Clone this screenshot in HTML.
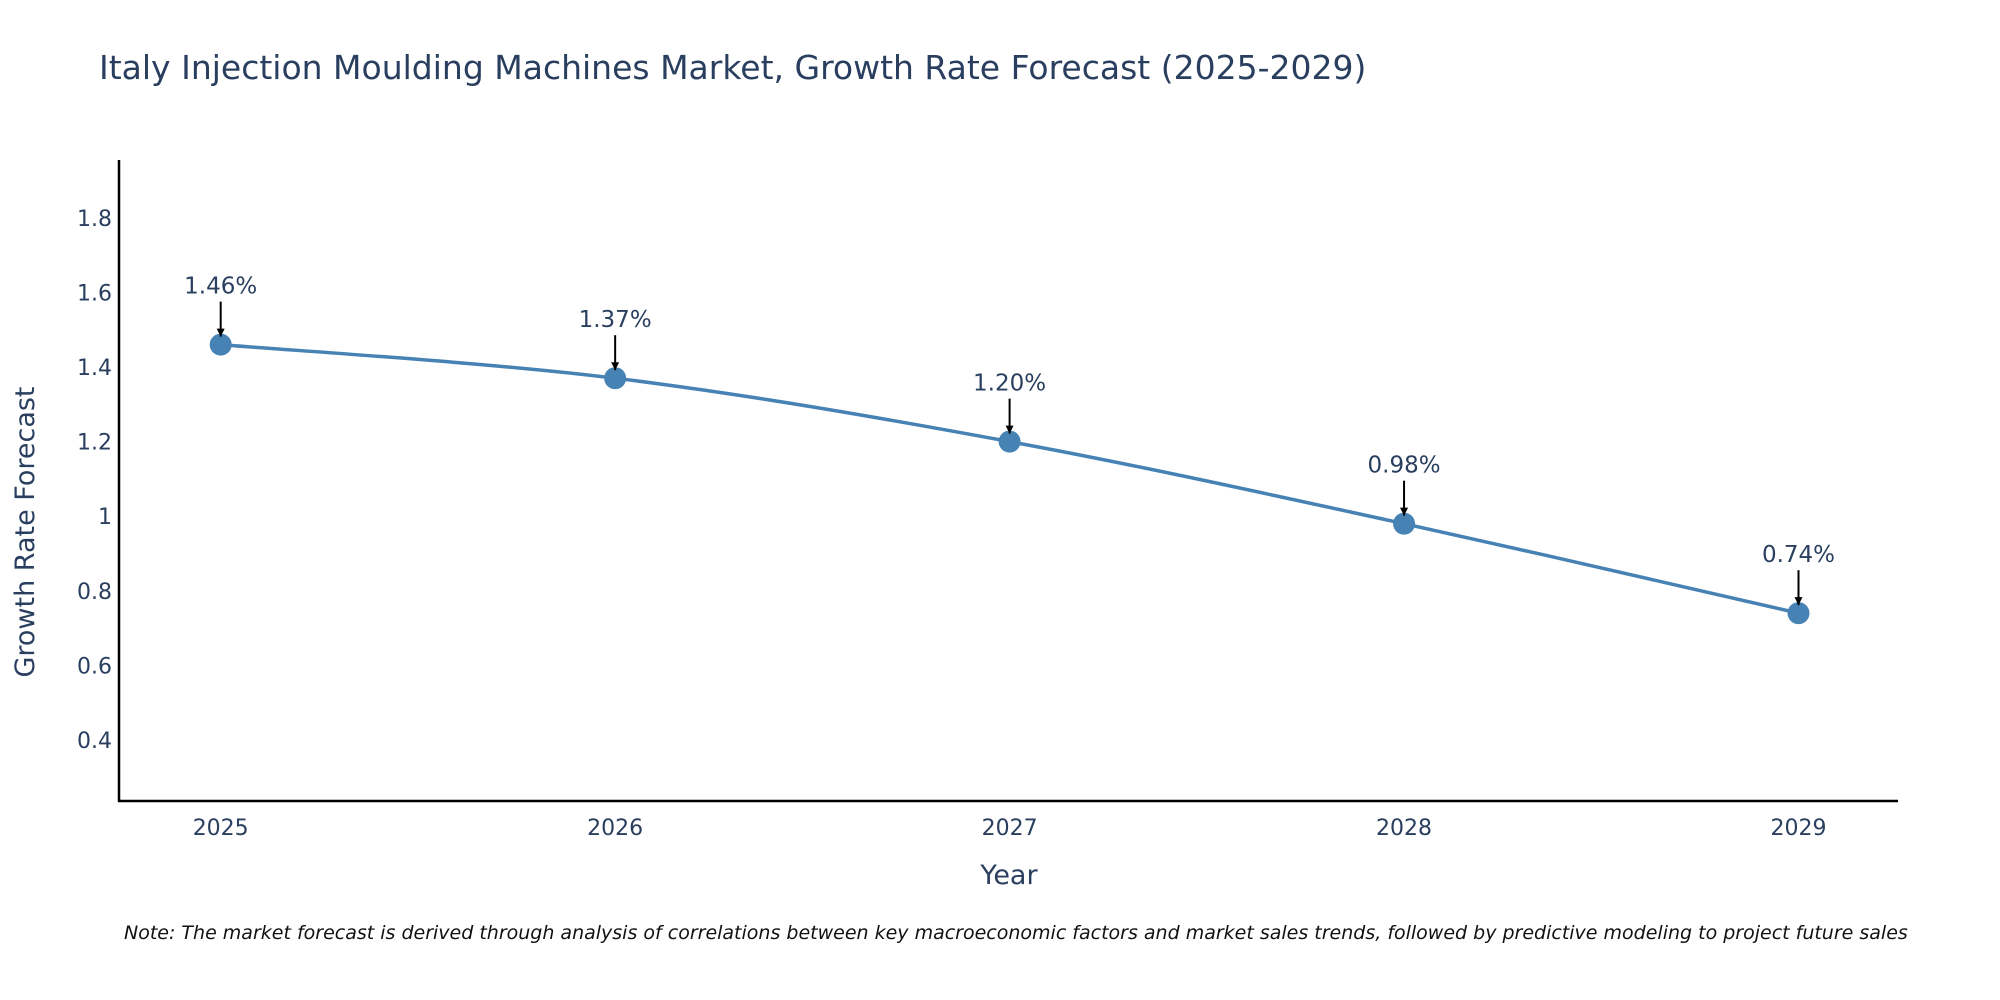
<!DOCTYPE html>
<html><head><meta charset="utf-8"><style>
html,body{margin:0;padding:0;background:#fff;width:2000px;height:1000px;overflow:hidden}
svg text{font-family:"DejaVu Sans","Liberation Sans",sans-serif;fill:#2a3f5f}
</style></head><body>
<svg id="chart" width="2000" height="1000" xmlns="http://www.w3.org/2000/svg">
<text x="99" y="79" font-size="33">Italy Injection Moulding Machines Market, Growth Rate Forecast (2025-2029)</text>
<g id="yticks"></g>
<g id="xticks"></g>
<line x1="119" y1="160" x2="119" y2="802" stroke="#000" stroke-width="2.5"/>
<line x1="118" y1="801" x2="1898" y2="801" stroke="#000" stroke-width="2.5"/>
<text transform="translate(34,532) rotate(-90)" text-anchor="middle" font-size="27">Growth Rate Forecast</text>
<text x="1009" y="884" text-anchor="middle" font-size="27">Year</text>
<path id="line" fill="none" stroke="#4682B4" stroke-width="3.5"/>
<g id="marks"></g>
<text x="124" y="939" font-size="19" font-style="italic" style="fill:#111">Note: The market forecast is derived through analysis of correlations between key macroeconomic factors and market sales trends, followed by predictive modeling to project future sales</text>
<defs><marker id="ah" viewBox="0 0 10 10" refX="10" refY="5" markerWidth="8" markerHeight="8" markerUnits="userSpaceOnUse" orient="auto"><path d="M0,0L10,5L0,10z" fill="#000"/></marker></defs>
</svg>
<script>
const years=[2025,2026,2027,2028,2029];
const values=[1.46,1.37,1.20,0.98,0.74];
const labels=["1.46%","1.37%","1.20%","0.98%","0.74%"];
const yTickVals=[0.4,0.6,0.8,1,1.2,1.4,1.6,1.8];
const NS="http://www.w3.org/2000/svg";
const svg=document.getElementById('chart');
const x=v=>220.7+(v-2025)*(1798.5-220.7)/4;
const y=v=>740-(v-0.4)*373;
function mk(t,a,p){const e=document.createElementNS(NS,t);for(const k in a)e.setAttribute(k,a[k]);(p||svg).appendChild(e);return e;}
const yt=document.getElementById('yticks');
yTickVals.forEach(v=>{const t=mk('text',{x:112,y:y(v)+8,'text-anchor':'end','font-size':22},yt);t.textContent=String(v);

});
const xt=document.getElementById('xticks');
years.forEach(v=>{const t=mk('text',{x:x(v),y:835,'text-anchor':'middle','font-size':22},xt);t.textContent=v;

});
const P=years.map((yr,i)=>[x(yr),y(values[i])]);
let d=`M${P[0][0]},${P[0][1]}`;
for(let i=0;i<P.length-1;i++){const p0=P[i-1]||P[i],p1=P[i],p2=P[i+1],p3=P[i+2]||P[i+1];const s=6;
d+=` C${p1[0]+(p2[0]-p0[0])/s},${p1[1]+(p2[1]-p0[1])/s} ${p2[0]-(p3[0]-p1[0])/s},${p2[1]-(p3[1]-p1[1])/s} ${p2[0]},${p2[1]}`;}
document.getElementById('line').setAttribute('d',d);
const mg=document.getElementById('marks');
P.forEach((p,i)=>{const c=mk('circle',{cx:p[0],cy:p[1],r:11,fill:'#4682B4'},mg);


const a=mk('line',{x1:p[0],y1:p[1]-43,x2:p[0],y2:p[1]-8,stroke:'#000','stroke-width':2,'marker-end':'url(#ah)'},mg);


const t=mk('text',{x:p[0],y:p[1]-51,'text-anchor':'middle','font-size':23},mg);t.textContent=labels[i];

});
</script>
</body></html>
